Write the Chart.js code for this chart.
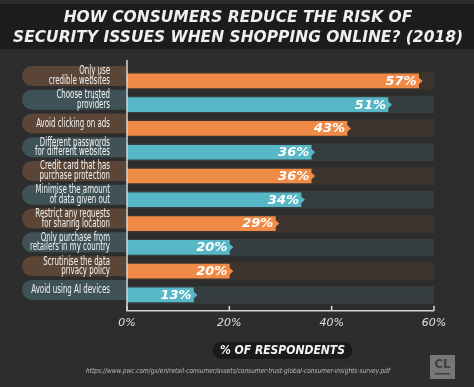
<!DOCTYPE html>
<html>
<head>
<meta charset="utf-8">
<script src="https://cdn.jsdelivr.net/npm/chart.js@4.4.1/dist/chart.umd.min.js"></script>
<style>
  html, body { margin: 0; padding: 0; background: #2d2d2d; }
  #wrap { width: 474px; height: 387px; position: relative; }
</style>
</head>
<body>
<div id="wrap"><canvas id="bars"></canvas></div>
<script>
// chart data
const categories = [
  ["Only use", "credible websites"],
  ["Choose trusted", "providers"],
  ["Avoid clicking on ads"],
  ["Different passwords", "for different websites"],
  ["Credit card that has", "purchase protection"],
  ["Minimise the amount", "of data given out"],
  ["Restrict any requests", "for sharing location"],
  ["Only purchase from", "retailers in my country"],
  ["Scrutinise the data", "privacy policy"],
  ["Avoid using AI devices"]
];
const respondents = [57, 51, 43, 36, 36, 34, 29, 20, 20, 13];
const trackValues = [60, 60, 60, 60, 60, 60, 60, 60, 60, 60];
const tickValues = [0, 20, 40, 60];
const titleLines = ["HOW CONSUMERS REDUCE THE RISK OF", "SECURITY ISSUES WHEN SHOPPING ONLINE? (2018)"];
const axisTitle = "% OF RESPONDENTS";
const sourceUrl = "https://www.pwc.com/gx/en/retail-consumer/assets/consumer-trust-global-consumer-insights-survey.pdf";

const ORANGE = '#f08b47';
const TEAL = '#58b7c7';
const barColors = respondents.map((v, i) => i % 2 == 0 ? ORANGE : TEAL);
const trackColors = respondents.map((v, i) => i % 2 == 0 ? '#3d342d' : '#363d41');
const pillColors = respondents.map((v, i) => i % 2 == 0 ? '#5a4536' : '#3e5257');

function roundPill(ctx, x1, x2, yc, h) {
  const r = h / 2;
  ctx.beginPath();
  ctx.moveTo(x2, yc - r);
  ctx.lineTo(x1 + r, yc - r);
  ctx.arc(x1 + r, yc, r, -Math.PI / 2, Math.PI / 2, true);
  ctx.lineTo(x2, yc + r);
  ctx.closePath();
}

// draws title band, label pills, chevrons, value labels, axis and footer
const decorations = {
  id: 'decorations',
  beforeDraw(chart) {
    const ctx = chart.ctx;
    const y = chart.scales.y;
    ctx.save();
    ctx.fillStyle = '#2d2d2d';
    ctx.fillRect(0, 0, chart.width, chart.height);
    ctx.fillStyle = '#1c1c1c';
    ctx.fillRect(0, 4, chart.width, 45);

    // title, squeezed to the reference width
    ctx.fillStyle = '#efefef';
    ctx.font = 'italic bold 15px "DejaVu Sans"';
    ctx.textBaseline = 'middle';
    ctx.textAlign = 'center';
    const tw = ctx.measureText(titleLines[1]).width;
    const sx = 450 / tw;
    [18, 38].forEach((ty, k) => {
      ctx.save();
      ctx.translate(238, ty);
      ctx.scale(sx, 1);
      ctx.fillText(titleLines[k], 0, 0);
      ctx.restore();
    });

    // label pills
    ctx.font = '12.5px "Liberation Sans Narrow", "DejaVu Sans Condensed"';
    const lw = ctx.measureText("for different websites").width;
    const lsx = 75 / lw;
    categories.forEach((lines, i) => {
      const yc = y.getPixelForValue(i) - 5;
      ctx.fillStyle = pillColors[i];
      roundPill(ctx, 22, chart.chartArea.left, yc, 20);
      ctx.fill();
      ctx.fillStyle = '#f2f2f2';
      ctx.textAlign = 'right';
      lines.forEach((t, k) => {
        const ly = lines.length == 1 ? yc : yc + (k == 0 ? -4.8 : 4.8);
        ctx.save();
        ctx.translate(110, ly);
        ctx.scale(lsx, 1);
        ctx.fillText(t, 0, 0);
        ctx.restore();
      });
    });

    // axis title pill
    const cx = (chart.chartArea.left + chart.chartArea.right) / 2 + 2;
    ctx.fillStyle = '#1a1a1a';
    ctx.beginPath();
    ctx.roundRect(cx - 70, 342, 140, 17, 8.5);
    ctx.fill();
    ctx.fillStyle = '#f2f2f2';
    ctx.textAlign = 'center';
    ctx.font = 'italic bold 12px "DejaVu Sans"';
    const aw = ctx.measureText(axisTitle).width;
    ctx.save();
    ctx.translate(cx, 350.5);
    ctx.scale(125 / aw, 1);
    ctx.fillText(axisTitle, 0, 0);
    ctx.restore();

    // source
    ctx.fillStyle = '#bdbdbd';
    ctx.font = 'italic 7px "DejaVu Sans"';
    ctx.textAlign = 'left';
    const uw = ctx.measureText(sourceUrl).width;
    ctx.save();
    ctx.translate(86, 371);
    ctx.scale(304 / uw, 1);
    ctx.fillText(sourceUrl, 0, 0);
    ctx.restore();

    // CL badge
    ctx.fillStyle = '#777777';
    ctx.fillRect(430, 355, 25, 24);
    ctx.fillStyle = '#3f3f3f';
    ctx.textAlign = 'center';
    ctx.font = 'bold 12px "DejaVu Sans"';
    ctx.fillText('CL', 442.5, 365);
    ctx.fillRect(435, 373, 15, 1.5);
    ctx.restore();
  },
  afterDatasetsDraw(chart) {
    const ctx = chart.ctx;
    const x = chart.scales.x;
    const y = chart.scales.y;
    const area = chart.chartArea;
    ctx.save();
    respondents.forEach((v, i) => {
      const xe = x.getPixelForValue(v);
      const yc = y.getPixelForValue(i);
      ctx.fillStyle = barColors[i];
      ctx.beginPath();
      ctx.moveTo(xe - 0.5, yc - 4);
      ctx.lineTo(xe + 4, yc);
      ctx.lineTo(xe - 0.5, yc + 4);
      ctx.closePath();
      ctx.fill();
      ctx.fillStyle = '#ffffff';
      ctx.font = 'italic bold 13px "DejaVu Sans"';
      ctx.textAlign = 'right';
      ctx.textBaseline = 'middle';
      ctx.fillText(v + '%', xe - 2, yc + 0.5);
    });

    // axes
    const ax = area.bottom + 4;
    ctx.strokeStyle = '#d6d6d6';
    ctx.lineWidth = 1.5;
    ctx.beginPath();
    ctx.moveTo(area.left, 60);
    ctx.lineTo(area.left, ax);
    ctx.lineTo(area.right, ax);
    ctx.stroke();
    tickValues.forEach(t => {
      const tx = x.getPixelForValue(t);
      ctx.beginPath();
      ctx.moveTo(tx, ax);
      ctx.lineTo(tx, ax - 5);
      ctx.stroke();
    });
    ctx.restore();
  }
};

new Chart(document.getElementById('bars'), {
  type: 'bar',
  data: {
    labels: categories,
    datasets: [{
      data: respondents,
      backgroundColor: barColors,
      barThickness: 14,
      grouped: false,
      order: 1
    }, {
      data: trackValues,
      backgroundColor: trackColors,
      barThickness: 17,
      grouped: false,
      order: 2
    }]
  },
  options: {
    indexAxis: 'y',
    responsive: true,
    maintainAspectRatio: false,
    animation: false,
    layout: { padding: { left: 127, right: 40, top: 69, bottom: 55 } },
    plugins: {
      legend: { display: false },
      tooltip: { enabled: false }
    },
    scales: {
      x: {
        min: 0,
        max: 60,
        grid: { display: false },
        border: { display: false },
        ticks: {
          stepSize: 20,
          padding: 2,
          color: '#e0e0e0',
          font: { family: '"DejaVu Sans"', size: 11, style: 'italic' },
          callback: v => v + '%'
        }
      },
      y: {
        display: false,
        grid: { display: false }
      }
    }
  },
  plugins: [decorations]
});
</script>
</body>
</html>
